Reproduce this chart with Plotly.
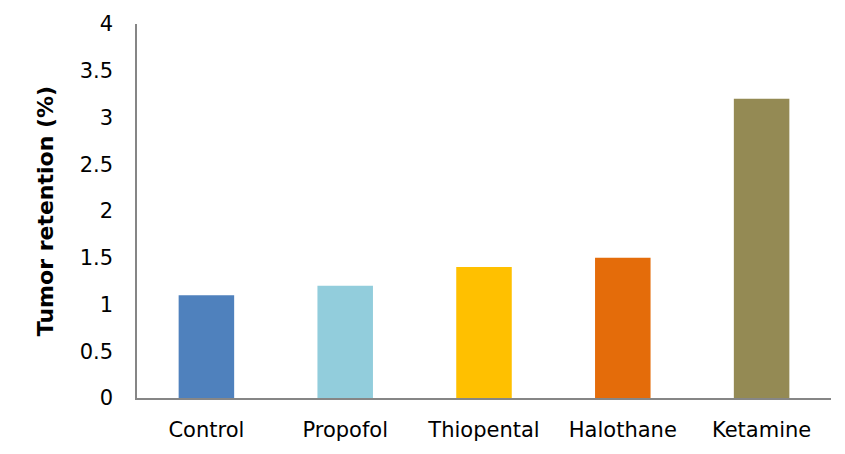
import plotly.graph_objects as go

categories = ["Control", "Propofol", "Thiopental", "Halothane", "Ketamine"]
values = [1.1, 1.2, 1.4, 1.5, 3.2]
colors = ["#4F81BD", "#92CDDC", "#FFC000", "#E46C0A", "#948A54"]
y_ticks = [0, 0.5, 1, 1.5, 2, 2.5, 3, 3.5, 4]

fig = go.Figure(go.Bar(x=categories, y=values, marker=dict(color=colors, line=dict(width=0)), width=0.4))

fig.update_layout(
    width=845, height=454,
    margin=dict(l=137, r=14, t=22, b=54),
    plot_bgcolor="white", paper_bgcolor="white",
    font=dict(family="DejaVu Sans", size=21, color="black"),
    showlegend=False,
    bargap=0.6,
)
fig.update_xaxes(showline=True, linecolor="#868686", linewidth=1.5, ticks="", showgrid=False,
                 tickfont=dict(size=21), ticklabelstandoff=12)
fig.update_yaxes(range=[0, 4], tickvals=y_ticks, ticktext=[f"{v:g}" for v in y_ticks],
                 showline=True, linecolor="#868686", linewidth=1.5, ticks="", showgrid=False,
                 zeroline=False, tickfont=dict(size=21), ticklabelstandoff=18,
                 title=dict(text="<b>Tumor retention (%)</b>", font=dict(size=22), standoff=20))

fig.write_html("out.html")
